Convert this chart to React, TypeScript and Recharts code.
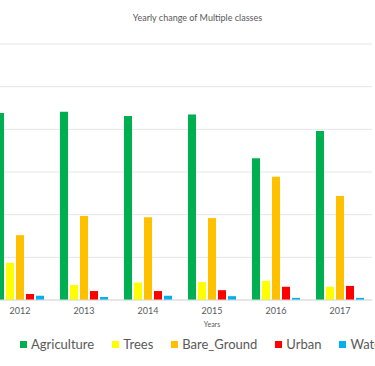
import { BarChart, Bar, XAxis, YAxis, CartesianGrid, Legend } from 'recharts';

const years = ['2012', '2013', '2014', '2015', '2016', '2017'];
const agriculture = [4380, 4410, 4310, 4350, 3320, 3960];
const trees = [870, 350, 410, 420, 450, 310];
const bareGround = [1520, 1970, 1940, 1920, 2890, 2440];
const urban = [140, 210, 210, 230, 310, 330];
const water = [100, 70, 100, 90, 50, 50];
const yTicks = [0, 1000, 2000, 3000, 4000, 5000, 6000];

const series = [
  { key: 'Agriculture', values: agriculture, color: '#00B050' },
  { key: 'Trees', values: trees, color: '#FFFF00' },
  { key: 'Bare_Ground', values: bareGround, color: '#FFC000' },
  { key: 'Urban', values: urban, color: '#FF0000' },
  { key: 'Water', values: water, color: '#00B0F0' },
];

const data = years.map((year, i) => {
  const row: Record<string, string | number> = { year };
  series.forEach((s) => (row[s.key] = s.values[i]));
  return row;
});

const FONT = 'Lato, sans-serif';

function LegendRow() {
  return (
    <div style={{ display: 'flex', alignItems: 'center', paddingLeft: 32, height: 20, whiteSpace: 'nowrap', fontFamily: FONT, fontSize: 13, color: '#595959' }}>
      {series.map((s) => (
        <span key={s.key} style={{ display: 'inline-flex', alignItems: 'center', marginRight: 18 }}>
          <span style={{ width: 7, height: 7, background: s.color, marginRight: 4, display: 'inline-block' }} />
          {s.key}
        </span>
      ))}
    </div>
  );
}

export default function App() {
  return (
    <div style={{ position: 'fixed', top: 0, left: 0, width: 375, height: 366, overflow: 'hidden', background: '#fff' }}>
      <div style={{ position: 'absolute', top: 12, left: 0, width: 395, textAlign: 'center', fontFamily: FONT, fontSize: 9, color: '#595959' }}>
        Yearly change of Multiple classes
      </div>
      <div style={{ position: 'absolute', top: 0, left: -12 }}>
        <BarChart
          width={420}
          height={366}
          data={data}
          margin={{ top: 44, right: 36, bottom: 12, left: 0 }}
          barCategoryGap="12.5%"
          barGap={2}
        >
          <CartesianGrid vertical={false} stroke="#e6e6e6" />
          <XAxis
            dataKey="year"
            axisLine={{ stroke: '#d9d9d9' }}
            tickLine={false}
            tick={{ fill: '#595959', fontSize: 9, fontFamily: FONT }}
            tickMargin={2}
            height={34}
            label={(props: any) => {
              const vb = props.viewBox;
              return (
                <text x={vb.x + vb.width / 2 + 32} y={vb.y + 27} textAnchor="middle" fill="#595959" fontSize={7} fontFamily={FONT}>
                  Years
                </text>
              );
            }}
          />
          <YAxis hide domain={[0, 6000]} ticks={yTicks} />
          <Legend verticalAlign="bottom" height={20} content={() => <LegendRow />} wrapperStyle={{ left: 0, width: 420 }} />
          {series.map((s) => (
            <Bar key={s.key} dataKey={s.key} fill={s.color} isAnimationActive={false} />
          ))}
        </BarChart>
      </div>
    </div>
  );
}
